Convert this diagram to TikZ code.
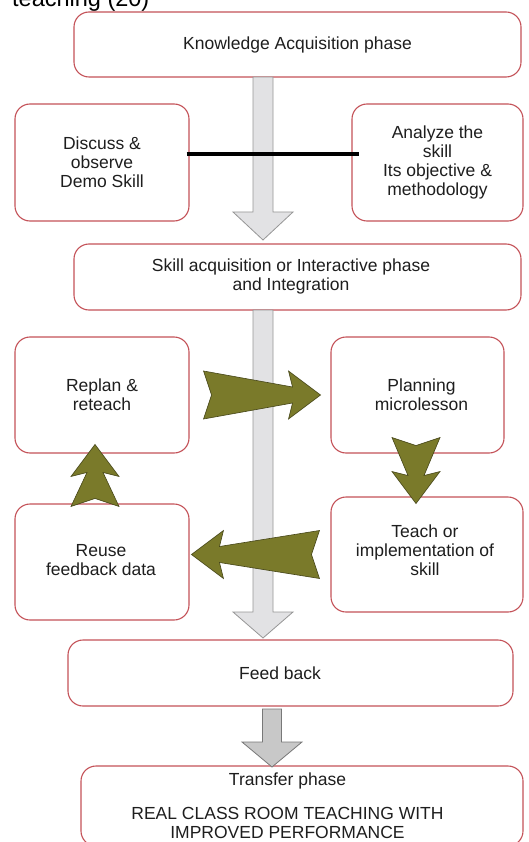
\documentclass[tikz,border=0pt]{standalone}
\usepackage{fontspec}
\setmainfont{Liberation Sans}
\usetikzlibrary{calc}
\definecolor{boxred}{RGB}{196,82,88}
\definecolor{txtgray}{RGB}{30,30,30}
\definecolor{garrfill}{RGB}{226,226,228}
\definecolor{garrline}{RGB}{150,150,150}
\definecolor{garrtwofill}{RGB}{200,200,200}
\definecolor{garrtwoline}{RGB}{120,120,120}
\definecolor{olivefill}{RGB}{122,122,42}
\definecolor{olivedark}{RGB}{70,70,25}
\begin{document}
\begin{tikzpicture}[x=1pt,y=-1pt,
  box/.style={draw=boxred, line width=1.1pt, fill=white, rounded corners=15pt,
    align=center, text=txtgray, font=\fontsize{17.5}{19}\selectfont, inner sep=0pt},
  txt/.style={align=center, text=txtgray, font=\fontsize{17.5}{19}\selectfont, inner sep=0pt},
  garrow/.style={draw=garrline, fill=garrfill, line width=0.8pt},
  garrowdark/.style={draw=garrtwoline, fill=garrtwofill, line width=0.8pt},
  olivearrow/.style={draw=olivedark, fill=olivefill, line width=0.6pt, line join=miter},
  pics/oarrow/.style={code={\draw[olivearrow] (0,24) -- (8,0) -- (0,-24) -- (#1-28,-8)
     -- (#1-32,-24) -- (#1,0) -- (#1-32,24) -- (#1-28,8) -- cycle;}},
  blackline/.style={line width=3.5pt, black}
]
\useasboundingbox (0,0) rectangle (529,842);

\node[anchor=base west, font=\fontsize{23.5}{26}\selectfont, inner sep=0pt, text=black] (title) at (12,7) {teaching (20)};

% boxes
\node[box, minimum width=447pt, minimum height=65pt] (know) at (297.5,44.5) {Knowledge Acquisition phase};
\node[box, minimum width=174pt, minimum height=117pt] (disc) at (102,162.5) {Discuss \&\\observe\\Demo Skill};
\node[box, minimum width=171pt, minimum height=117pt] (anal) at (437.5,162.5) {Analyze the\\skill\\Its objective \&\\methodology};
\node[box, minimum width=447pt, minimum height=66pt] (skill) at (297.5,277) {};
\node[txt] (skilltext) at (291,276) {Skill acquisition or Interactive phase\\and Integration};
\node[box, minimum width=174pt, minimum height=116pt] (replan) at (102,395) {Replan \&\\reteach};
\node[box, minimum width=173pt, minimum height=116pt] (plan) at (417.5,395) {\hspace*{8pt}Planning\\\hspace*{8pt}microlesson};
\node[box, minimum width=192pt, minimum height=115pt] (teach) at (427,554.5) {};
\node[txt] (teachtext) at (425,550.5) {Teach or\\implementation of\\skill};
\node[box, minimum width=174pt, minimum height=116pt] (reuse) at (102,562) {};
\node[txt] (reusetext) at (101,560) {Reuse\\feedback data};
\node[box, minimum width=445pt, minimum height=66pt] (fb) at (290.5,673) {};
\node[txt] (fbtext) at (280,673) {Feed back};
\node[box, minimum width=442pt, minimum height=80pt] (trans) at (302,806) {};
\node[txt] (transtext) at (287.5,806) {Transfer phase\\[15pt]REAL CLASS ROOM TEACHING WITH\\IMPROVED PERFORMANCE};

% gray arrows
\coordinate (g1) at (263,77);
\draw[garrow] (g1) ++(-10,0) -- ++(0,135) -- ++(-20,0) -- ++(30,28) -- ++(30,-28) -- ++(-20,0) -- ++(0,-135) -- cycle;
\coordinate (g2) at (263,310);
\draw[garrow] (g2) ++(-10,0) -- ++(0,302) -- ++(-20,0) -- ++(30,26) -- ++(30,-26) -- ++(-20,0) -- ++(0,-302) -- cycle;
\coordinate (g3) at (272,709);
\draw[garrowdark] (g3) ++(-9.5,0) -- ++(0,33) -- ++(-20.5,0) -- ++(30,25) -- ++(30,-25) -- ++(-20.5,0) -- ++(0,-33) -- cycle;

% olive arrows
\coordinate (ra) at ($(replan.east)+(14,0)$);
\pic at (ra) {oarrow=117};
\coordinate (da) at ($(plan.south)+(-1.5,-16)$);
\pic[rotate=-90] at (da) {oarrow=66};
\coordinate (la) at ($(teach.west)+(-11,0)$);
\pic[rotate=180] at (la) {oarrow=128};
\coordinate (ua) at ($(reuse.north)+(-7,3)$);
\pic[rotate=90] at (ua) {oarrow=62};

% black connector
\draw[blackline] ([xshift=-3pt,yshift=8.5pt]disc.east) -- ([xshift=8pt,yshift=8.5pt]anal.west);
\end{tikzpicture}
\end{document}
